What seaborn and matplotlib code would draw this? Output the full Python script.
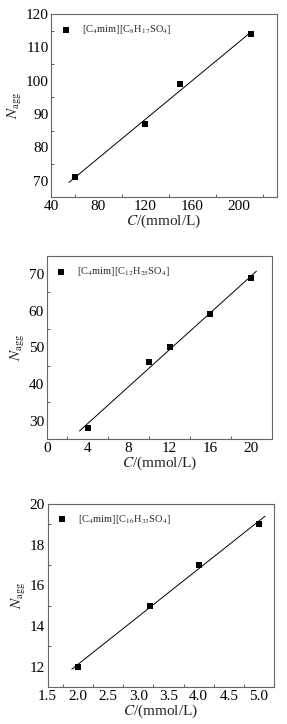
import numpy as np
import pandas as pd
import matplotlib
matplotlib.use("Agg")
import matplotlib.pyplot as plt
import seaborn as sns
from matplotlib.ticker import MultipleLocator

# data
c8_conc = [60, 120, 150, 210]
c8_nagg = [71, 87, 99, 114]
c12_conc = [4, 10, 12, 16, 20]
c12_nagg = [28, 46, 50, 59, 69]
c16_conc = [2.0, 3.2, 4.0, 5.0]
c16_nagg = [12, 15, 17, 19]

labels = ["[C$_4$mim][C$_8$H$_{17}$SO$_4$]",
          "[C$_4$mim][C$_{12}$H$_{25}$SO$_4$]",
          "[C$_4$mim][C$_{16}$H$_{33}$SO$_4$]"]

sns.set_theme(style="white")
plt.rcParams["font.family"] = ["Liberation Serif", "DejaVu Serif"]
plt.rcParams["mathtext.fontset"] = "stix"


def panel(fig, rect, x, y, label, fitrange, xlim, ylim, xmaj, ymaj):
    ax = fig.add_axes(rect)
    df = pd.DataFrame({"x": x, "y": y})
    sns.scatterplot(data=df, x="x", y="y", marker="s", s=18, color="black",
                    edgecolor="black", linewidth=0, label=label, ax=ax, zorder=3)
    k, b = np.polyfit(x, y, 1)
    fx = np.array(fitrange)
    sns.lineplot(x=fx, y=k * fx + b, color="black", linewidth=0.7, ax=ax)
    ax.set_xlim(*xlim)
    ax.set_ylim(*ylim)
    ax.xaxis.set_major_locator(MultipleLocator(xmaj))
    ax.xaxis.set_minor_locator(MultipleLocator(xmaj / 2))
    ax.yaxis.set_major_locator(MultipleLocator(ymaj))
    ax.yaxis.set_minor_locator(MultipleLocator(ymaj / 2))
    ax.tick_params(which="both", direction="in", top=False, right=False,
                   colors="#444444", labelcolor="black", labelsize=11, pad=2)
    ax.tick_params(which="major", length=3.5, width=0.7)
    ax.tick_params(which="minor", length=2, width=0.6, bottom=True, left=True)
    for s in ax.spines.values():
        s.set_color("#666666")
        s.set_linewidth(0.8)
    ax.set_xlabel("$C$/(mmol/L)", fontsize=11, labelpad=0)
    ax.set_ylabel("$N_{\\rm agg}$", fontsize=11, labelpad=1)
    ax.legend(loc="upper left", frameon=False, fontsize=7.5, handletextpad=1.0,
              borderaxespad=0.5, handlelength=1.0, markerscale=1.0)
    return ax


fig = plt.figure(figsize=(2.87, 7.24), dpi=100)
panel(fig, [0.179, 0.7275, 0.785, 0.253], c8_conc, c8_nagg, labels[0],
      [55, 210], (40, 232), (65, 120), 40, 10)
panel(fig, [0.163, 0.3936, 0.784, 0.253], c12_conc, c12_nagg, labels[1],
      [3.2, 20.5], (0, 22), (25, 75), 4, 10)
panel(fig, [0.166, 0.0511, 0.789, 0.253], c16_conc, c16_nagg, labels[2],
      [1.9, 5.1], (1.5, 5.25), (11, 20), 0.5, 2)
fig.savefig("out.png", dpi=100)
